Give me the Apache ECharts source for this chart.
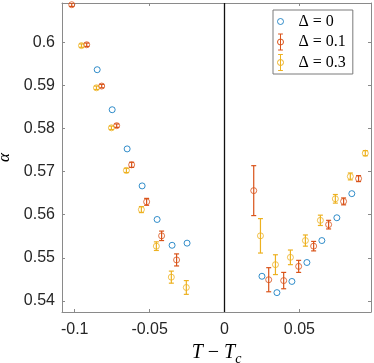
<!DOCTYPE html>
<html>
<head>
<meta charset="utf-8">
<script src="https://cdn.jsdelivr.net/npm/echarts@6/dist/echarts.min.js"></script>
<style>
  html, body { margin: 0; padding: 0; background: #fff; }
  #main { width: 374px; height: 363px; }
</style>
</head>
<body>
<div id="main"></div>
<script>
// 数据: Δ = 0
var t0 = [-0.085, -0.075, -0.065, -0.055, -0.045, -0.035, -0.025,
          0.025, 0.035, 0.045, 0.055, 0.065, 0.075, 0.085];
var a0 = [0.5937, 0.5844, 0.5753, 0.5667, 0.5589, 0.5529, 0.5534,
          0.5457, 0.5419, 0.5445, 0.5489, 0.5540, 0.5593, 0.5649];
// Δ = 0.1
var t1 = [-0.102, -0.092, -0.082, -0.072, -0.062, -0.052, -0.042, -0.032,
          0.0195, 0.0295, 0.0395, 0.0495, 0.0595, 0.0695, 0.0795, 0.0895];
var a1 = [0.6088, 0.5995, 0.5899, 0.5807, 0.5716, 0.5630, 0.5551, 0.5495,
          0.5656, 0.5449, 0.5447, 0.5480, 0.5527, 0.5577, 0.5631, 0.5684];
var e1 = [0.0004, 0.0004, 0.0004, 0.0004, 0.0006, 0.0008, 0.0011, 0.0014,
          0.0058, 0.0028, 0.0019, 0.0014, 0.0011, 0.0010, 0.0008, 0.0007];
// Δ = 0.3
var t2 = [-0.0955, -0.0855, -0.0755, -0.0655, -0.0555, -0.0455, -0.0355, -0.0255,
          0.024, 0.034, 0.044, 0.054, 0.064, 0.074, 0.084, 0.094];
var a2 = [0.5993, 0.5895, 0.5802, 0.5703, 0.5612, 0.5527, 0.5455, 0.5431,
          0.5551, 0.5484, 0.5501, 0.5540, 0.5587, 0.5637, 0.5689, 0.5743];
var e2 = [0.0004, 0.0004, 0.0004, 0.0005, 0.0007, 0.0010, 0.0014, 0.0016,
          0.0040, 0.0023, 0.0017, 0.0013, 0.0012, 0.0010, 0.0008, 0.0006];

// 刻度
var xTicks = [-0.1, -0.05, 0, 0.05];
var yTicks = [0.54, 0.55, 0.56, 0.57, 0.58, 0.59, 0.6];
var names = ['Δ = 0', 'Δ = 0.1', 'Δ = 0.3'];
var colors = ['#0072BD', '#D95319', '#EDB120'];

var xMin = -0.1085, xMax = 0.0978, yMin = 0.5374, yMax = 0.6092;

function zip(a, b, c) {
    return a.map(function (v, i) { return c ? [v, b[i], c[i]] : [v, b[i]]; });
}

// 误差棒
function errorBars(color) {
    return function (params, api) {
        var x = api.value(0), y = api.value(1), e = api.value(2);
        var lo = api.coord([x, y - e]);
        var hi = api.coord([x, y + e]);
        var w = 2.5;
        var st = { stroke: color, lineWidth: 1.2, fill: null };
        return {
            type: 'group',
            children: [
                { type: 'line', shape: { x1: lo[0], y1: lo[1], x2: hi[0], y2: hi[1] }, style: st },
                { type: 'line', shape: { x1: lo[0] - w, y1: lo[1], x2: lo[0] + w, y2: lo[1] }, style: st },
                { type: 'line', shape: { x1: hi[0] - w, y1: hi[1], x2: hi[0] + w, y2: hi[1] }, style: st }
            ]
        };
    };
}

function scatter(name, data, color) {
    return {
        name: name,
        type: 'scatter',
        data: data,
        symbol: 'circle',
        symbolSize: 6,
        clip: true,
        itemStyle: { color: 'rgba(255,255,255,0)', borderColor: color, borderWidth: 1 },
        emphasis: { disabled: true }
    };
}

function bars(name, data, color) {
    return {
        name: name,
        type: 'custom',
        data: data,
        clip: true,
        encode: { x: 0, y: 1 },
        renderItem: errorBars(color),
        silent: true
    };
}

var circ = 'M13.75 10A3.75 3.75 0 1 1 6.25 10A3.75 3.75 0 1 1 13.75 10Z';
var iconDot = 'path://M10 0L10 0.01M10 19.99L10 20' + circ;
var iconBar = 'path://M10 0L10 20M7 0L13 0M7 20L13 20' + circ;

var axisGray = '#8a8a8a';
var labelFont = { fontFamily: 'Liberation Sans', fontSize: 16, color: '#262626' };

var myChart = echarts.init(document.getElementById('main'));

var option = {
    animation: false,
    backgroundColor: '#fff',
    grid: { left: 62, right: 3, top: 3, bottom: 51, outerBoundsMode: 'none' },
    legend: {
        orient: 'vertical',
        left: 273,
        top: 10,
        padding: [3, 7, 3, 4],
        itemGap: 3.5,
        itemWidth: 26,
        itemHeight: 16,
        backgroundColor: '#fff',
        borderColor: '#7a7a7a',
        borderWidth: 1,
        textStyle: { fontFamily: 'Liberation Serif', fontSize: 16, color: '#000' },
        data: names.map(function (n, i) {
            return {
                name: n,
                icon: i === 0 ? iconDot : iconBar,
                itemStyle: { color: 'rgba(255,255,255,0)', borderColor: colors[i], borderWidth: 1 }
            };
        })
    },
    xAxis: [{
        type: 'value',
        min: xMin,
        max: xMax,
        name: '{i|T}{m| − }{i|T}{c|c}',
        nameLocation: 'middle',
        nameGap: 23,
        nameTextStyle: {
            rich: {
                i: { fontFamily: 'Liberation Serif', fontStyle: 'italic', fontSize: 20, color: '#000', lineHeight: 23, verticalAlign: 'top' },
                m: { fontFamily: 'Liberation Serif', fontSize: 20, color: '#000', lineHeight: 23, verticalAlign: 'top' },
                c: { fontFamily: 'Liberation Serif', fontStyle: 'italic', fontSize: 14, color: '#000', lineHeight: 14, verticalAlign: 'bottom' }
            }
        },
        splitLine: { show: false },
        axisLine: { onZero: false, lineStyle: { color: axisGray, width: 1 } },
        axisTick: { inside: true, length: 3, customValues: xTicks, lineStyle: { color: axisGray } },
        axisLabel: Object.assign({ margin: 10, customValues: xTicks, formatter: function (v) { return String(v); } }, labelFont)
    }, {
        type: 'value',
        position: 'top',
        min: xMin,
        max: xMax,
        splitLine: { show: false },
        axisLine: { onZero: false, lineStyle: { color: axisGray, width: 1 } },
        axisTick: { inside: true, length: 3, customValues: xTicks, lineStyle: { color: axisGray } },
        axisLabel: { show: false }
    }],
    yAxis: [{
        type: 'value',
        min: yMin,
        max: yMax,
        name: 'α',
        nameLocation: 'middle',
        nameRotate: 90,
        nameGap: 47,
        nameTextStyle: { fontFamily: 'Liberation Serif', fontStyle: 'italic', fontSize: 17, color: '#000' },
        splitLine: { show: false },
        axisLine: { show: true, onZero: false, lineStyle: { color: axisGray, width: 1 } },
        axisTick: { show: true, inside: true, length: 3, customValues: yTicks, lineStyle: { color: axisGray } },
        axisLabel: Object.assign({ margin: 7, customValues: yTicks, formatter: function (v) { return String(v); } }, labelFont)
    }, {
        type: 'value',
        position: 'right',
        min: yMin,
        max: yMax,
        splitLine: { show: false },
        axisLine: { show: true, onZero: false, lineStyle: { color: axisGray, width: 1 } },
        axisTick: { show: true, inside: true, length: 3, customValues: yTicks, lineStyle: { color: axisGray } },
        axisLabel: { show: false }
    }],
    series: [
        Object.assign(scatter(names[0], zip(t0, a0), colors[0]), {
            markLine: {
                silent: true,
                symbol: ['none', 'none'],
                label: { show: false },
                lineStyle: { color: '#111', width: 1.3, type: 'solid' },
                data: [{ xAxis: 0 }]
            }
        }),
        bars(names[1], zip(t1, a1, e1), colors[1]),
        scatter(names[1], zip(t1, a1), colors[1]),
        bars(names[2], zip(t2, a2, e2), colors[2]),
        scatter(names[2], zip(t2, a2), colors[2])
    ]
};

myChart.setOption(option);
</script>
</body>
</html>
